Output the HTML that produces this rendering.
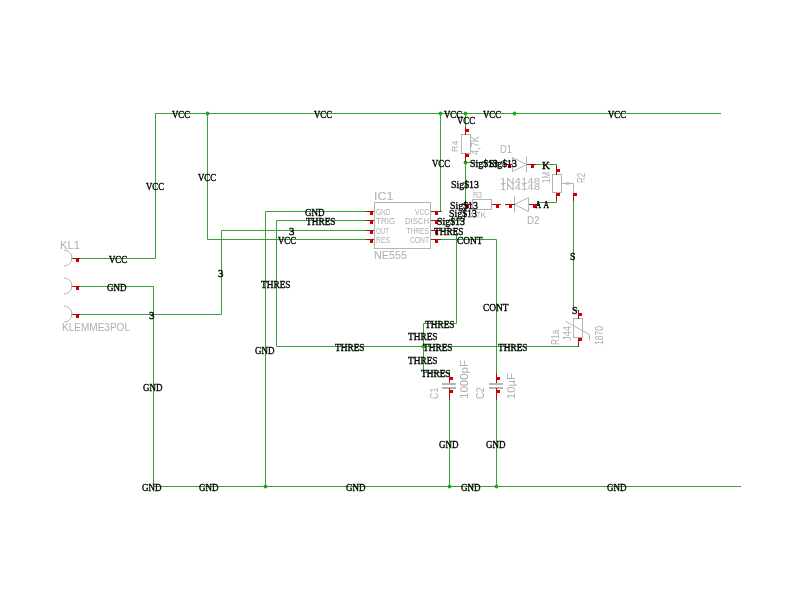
<!DOCTYPE html>
<html><head><meta charset="utf-8"><style>
html,body{margin:0;padding:0;background:#fff;width:800px;height:600px;overflow:hidden}
svg{display:block;will-change:transform}
.w{stroke:rgb(55,160,55);stroke-width:1;fill:none;stroke-linejoin:miter;stroke-linecap:square}
.p{stroke:rgb(160,20,20);stroke-width:1;fill:none;stroke-linecap:square}
.g{stroke:rgb(180,180,180);stroke-width:1;fill:none}
.l{font-family:"Liberation Serif",serif;font-size:10px;fill:#000;stroke:#000;stroke-width:0.35px}
.n{font-family:"Liberation Sans",sans-serif;fill:rgb(175,175,175)}
</style></head><body>
<svg width="800" height="600" viewBox="0 0 800 600">
<polyline points="155.5,113.5 720.5,113.5" class="w"/>
<polyline points="80.5,258.5 155.5,258.5 155.5,113.5" class="w"/>
<polyline points="207.5,113.5 207.5,239.5 366.5,239.5" class="w"/>
<polyline points="80.5,286.5 153.5,286.5 153.5,486.5 740.5,486.5" class="w"/>
<polyline points="80.5,314.5 221.5,314.5 221.5,230.5 366.5,230.5" class="w"/>
<polyline points="366.5,211.5 265.5,211.5 265.5,486.5" class="w"/>
<polyline points="366.5,220.5 276.5,220.5 276.5,346.5 578.5,346.5" class="w"/>
<polyline points="441.5,230.5 456.5,230.5 456.5,323.5 423.5,323.5 423.5,372.5 449.5,372.5" class="w"/>
<polyline points="441.5,239.5 496.5,239.5 496.5,373.5" class="w"/>
<polyline points="449.5,399.5 449.5,486.5" class="w"/>
<polyline points="496.5,399.5 496.5,486.5" class="w"/>
<polyline points="441.5,211.5 440.5,211.5 440.5,113.5" class="w"/>
<polyline points="465.5,113.5 465.5,127.5" class="w"/>
<polyline points="465.5,161.5 465.5,203.5" class="w"/>
<polyline points="465.5,162.5 501.5,162.5 503.5,164.5" class="w"/>
<polyline points="441.5,220.5 464.5,220.5 465.5,203.5" class="w"/>
<polyline points="535.5,164.5 556.5,164.5 556.5,169.5" class="w"/>
<polyline points="556.5,199.5 556.5,202.5 537.5,202.5 537.5,204.5" class="w"/>
<polyline points="573.5,200.5 573.5,309.5 578.5,310.5" class="w"/>
<circle cx="207.5" cy="113.5" r="1.9" fill="rgb(30,170,30)"/>
<circle cx="440.5" cy="113.5" r="1.9" fill="rgb(30,170,30)"/>
<circle cx="465.5" cy="113.5" r="1.9" fill="rgb(30,170,30)"/>
<circle cx="514.5" cy="113.5" r="1.9" fill="rgb(30,170,30)"/>
<circle cx="465.5" cy="162.5" r="1.9" fill="rgb(30,170,30)"/>
<circle cx="423.5" cy="346.5" r="1.9" fill="rgb(30,170,30)"/>
<circle cx="265.5" cy="486.5" r="1.9" fill="rgb(30,170,30)"/>
<circle cx="449.5" cy="486.5" r="1.9" fill="rgb(30,170,30)"/>
<circle cx="496.5" cy="486.5" r="1.9" fill="rgb(30,170,30)"/>
<line x1="71.5" y1="258.5" x2="79.5" y2="258.5" class="p"/>
<rect x="76" y="258" width="3" height="4" fill="rgb(200,0,0)"/>
<path d="M64,250 A8,8 0 0 1 64,266" class="g"/>
<line x1="71.5" y1="286.5" x2="79.5" y2="286.5" class="p"/>
<rect x="76" y="286" width="3" height="4" fill="rgb(200,0,0)"/>
<path d="M64,278 A8,8 0 0 1 64,294" class="g"/>
<line x1="71.5" y1="314.5" x2="79.5" y2="314.5" class="p"/>
<rect x="76" y="314" width="3" height="4" fill="rgb(200,0,0)"/>
<path d="M64,306 A8,8 0 0 1 64,322" class="g"/>
<rect x="374.5" y="202.5" width="56" height="46" class="g"/>
<line x1="366.5" y1="211.5" x2="373.5" y2="211.5" class="p"/>
<rect x="370" y="211" width="3" height="4" fill="rgb(200,0,0)"/>
<line x1="431.5" y1="211.5" x2="440.5" y2="211.5" class="p"/>
<rect x="435" y="211" width="3" height="4" fill="rgb(200,0,0)"/>
<line x1="366.5" y1="220.5" x2="373.5" y2="220.5" class="p"/>
<rect x="370" y="220" width="3" height="4" fill="rgb(200,0,0)"/>
<line x1="431.5" y1="220.5" x2="440.5" y2="220.5" class="p"/>
<rect x="435" y="220" width="3" height="4" fill="rgb(200,0,0)"/>
<line x1="366.5" y1="230.5" x2="373.5" y2="230.5" class="p"/>
<rect x="370" y="230" width="3" height="4" fill="rgb(200,0,0)"/>
<line x1="431.5" y1="230.5" x2="440.5" y2="230.5" class="p"/>
<rect x="435" y="230" width="3" height="4" fill="rgb(200,0,0)"/>
<line x1="366.5" y1="239.5" x2="373.5" y2="239.5" class="p"/>
<rect x="370" y="239" width="3" height="4" fill="rgb(200,0,0)"/>
<line x1="431.5" y1="239.5" x2="440.5" y2="239.5" class="p"/>
<rect x="435" y="239" width="3" height="4" fill="rgb(200,0,0)"/>
<rect x="461.5" y="134.5" width="9" height="19" class="g"/>
<line x1="465.5" y1="127.5" x2="465.5" y2="134.5" class="p"/>
<rect x="465" y="129" width="4" height="3" fill="rgb(200,0,0)"/>
<line x1="465.5" y1="153.5" x2="465.5" y2="161.5" class="p"/>
<rect x="465" y="154" width="4" height="3" fill="rgb(200,0,0)"/>
<polygon points="512.5,157.5 526.5,164.5 512.5,171.5" class="g"/>
<line x1="526.5" y1="156.5" x2="526.5" y2="172.5" class="g"/>
<line x1="503.5" y1="164.5" x2="511.5" y2="164.5" class="p"/>
<rect x="508" y="164" width="3" height="4" fill="rgb(200,0,0)"/>
<line x1="527.5" y1="164.5" x2="535.5" y2="164.5" class="p"/>
<rect x="531" y="164" width="3" height="4" fill="rgb(200,0,0)"/>
<polygon points="528.5,197.5 514.5,204.5 528.5,211.5" class="g"/>
<line x1="514.5" y1="196.5" x2="514.5" y2="212.5" class="g"/>
<line x1="505.5" y1="204.5" x2="514.5" y2="204.5" class="p"/>
<rect x="509" y="204" width="3" height="4" fill="rgb(200,0,0)"/>
<line x1="529.5" y1="204.5" x2="539.5" y2="204.5" class="p"/>
<rect x="533" y="204" width="3" height="4" fill="rgb(200,0,0)"/>
<rect x="472.5" y="199.5" width="19" height="10" class="g"/>
<line x1="462.5" y1="204.5" x2="471.5" y2="204.5" class="p"/>
<rect x="466" y="204" width="3" height="4" fill="rgb(200,0,0)"/>
<line x1="492.5" y1="204.5" x2="500.5" y2="204.5" class="p"/>
<rect x="496" y="204" width="3" height="4" fill="rgb(200,0,0)"/>
<rect x="552.5" y="174.5" width="9" height="18" class="g"/>
<ellipse cx="567.5" cy="183.5" rx="2.2" ry="1.2" fill="rgb(185,185,185)"/>
<line x1="556.5" y1="165.5" x2="556.5" y2="174.5" class="p"/>
<rect x="556" y="169" width="4" height="3" fill="rgb(200,0,0)"/>
<line x1="556.5" y1="193.5" x2="556.5" y2="200.5" class="p"/>
<rect x="556" y="193" width="4" height="3" fill="rgb(200,0,0)"/>
<polyline points="561.5,183.5 573.5,183.5 573.5,193.5" class="g"/>
<line x1="573.5" y1="193.5" x2="573.5" y2="200.5" class="p"/>
<rect x="573" y="193" width="4" height="3" fill="rgb(200,0,0)"/>
<rect x="573.5" y="318.5" width="9" height="19" class="g"/>
<line x1="578.5" y1="310.5" x2="578.5" y2="318.5" class="p"/>
<rect x="578" y="313" width="4" height="3" fill="rgb(200,0,0)"/>
<line x1="578.5" y1="338.5" x2="578.5" y2="346.5" class="p"/>
<rect x="578" y="338" width="4" height="3" fill="rgb(200,0,0)"/>
<polyline points="565.5,321.5 589.5,334.5 589.5,340.5" class="g"/>
<line x1="449.5" y1="373.5" x2="449.5" y2="382.5" class="p"/>
<rect x="449" y="377" width="4" height="3" fill="rgb(200,0,0)"/>
<rect x="442" y="383" width="14" height="2" fill="rgb(180,180,180)"/>
<rect x="442" y="387" width="14" height="2" fill="rgb(180,180,180)"/>
<line x1="449.5" y1="388.5" x2="449.5" y2="399.5" class="p"/>
<rect x="449" y="390" width="4" height="3" fill="rgb(200,0,0)"/>
<line x1="496.5" y1="373.5" x2="496.5" y2="382.5" class="p"/>
<rect x="496" y="377" width="4" height="3" fill="rgb(200,0,0)"/>
<rect x="489" y="383" width="14" height="2" fill="rgb(180,180,180)"/>
<rect x="489" y="387" width="14" height="2" fill="rgb(180,180,180)"/>
<line x1="496.5" y1="388.5" x2="496.5" y2="399.5" class="p"/>
<rect x="496" y="390" width="4" height="3" fill="rgb(200,0,0)"/>
<text x="172" y="117.5" class="l" textLength="18" lengthAdjust="spacingAndGlyphs">VCC</text>
<text x="314" y="117.5" class="l" textLength="18" lengthAdjust="spacingAndGlyphs">VCC</text>
<text x="444" y="117.5" class="l" textLength="18" lengthAdjust="spacingAndGlyphs">VCC</text>
<text x="457" y="123.5" class="l" textLength="18" lengthAdjust="spacingAndGlyphs">VCC</text>
<text x="483" y="117.5" class="l" textLength="18" lengthAdjust="spacingAndGlyphs">VCC</text>
<text x="608" y="117.5" class="l" textLength="18" lengthAdjust="spacingAndGlyphs">VCC</text>
<text x="146" y="189.5" class="l" textLength="18" lengthAdjust="spacingAndGlyphs">VCC</text>
<text x="198" y="180.5" class="l" textLength="18" lengthAdjust="spacingAndGlyphs">VCC</text>
<text x="432" y="166.5" class="l" textLength="18" lengthAdjust="spacingAndGlyphs">VCC</text>
<text x="109" y="262.5" class="l" textLength="18" lengthAdjust="spacingAndGlyphs">VCC</text>
<text x="107" y="290.5" class="l" textLength="19.5" lengthAdjust="spacingAndGlyphs">GND</text>
<text x="149" y="318.5" class="l" textLength="5.5" lengthAdjust="spacingAndGlyphs">3</text>
<text x="305" y="215.5" class="l" textLength="19.5" lengthAdjust="spacingAndGlyphs">GND</text>
<text x="306" y="224.5" class="l" textLength="29.5" lengthAdjust="spacingAndGlyphs">THRES</text>
<text x="289" y="234.5" class="l" textLength="5.5" lengthAdjust="spacingAndGlyphs">3</text>
<text x="278" y="243.5" class="l" textLength="18" lengthAdjust="spacingAndGlyphs">VCC</text>
<text x="218" y="276.5" class="l" textLength="5.5" lengthAdjust="spacingAndGlyphs">3</text>
<text x="261" y="287.5" class="l" textLength="29.5" lengthAdjust="spacingAndGlyphs">THRES</text>
<text x="255" y="353.5" class="l" textLength="19.5" lengthAdjust="spacingAndGlyphs">GND</text>
<text x="335" y="350.5" class="l" textLength="29.5" lengthAdjust="spacingAndGlyphs">THRES</text>
<text x="425" y="327.5" class="l" textLength="29.5" lengthAdjust="spacingAndGlyphs">THRES</text>
<text x="408" y="339.5" class="l" textLength="29.5" lengthAdjust="spacingAndGlyphs">THRES</text>
<text x="423" y="350.5" class="l" textLength="29.5" lengthAdjust="spacingAndGlyphs">THRES</text>
<text x="408" y="363.5" class="l" textLength="29.5" lengthAdjust="spacingAndGlyphs">THRES</text>
<text x="421" y="376.5" class="l" textLength="29.5" lengthAdjust="spacingAndGlyphs">THRES</text>
<text x="498" y="350.5" class="l" textLength="29.5" lengthAdjust="spacingAndGlyphs">THRES</text>
<text x="483" y="310.5" class="l" textLength="25.5" lengthAdjust="spacingAndGlyphs">CONT</text>
<text x="457" y="243.5" class="l" textLength="25.5" lengthAdjust="spacingAndGlyphs">CONT</text>
<text x="434" y="234.5" class="l" textLength="29.5" lengthAdjust="spacingAndGlyphs">THRES</text>
<text x="437" y="224.5" class="l" textLength="28" lengthAdjust="spacingAndGlyphs">Sig&#36;13</text>
<text x="449" y="216.5" class="l" textLength="28" lengthAdjust="spacingAndGlyphs">Sig&#36;13</text>
<text x="450" y="208.5" class="l" textLength="28" lengthAdjust="spacingAndGlyphs">Sig&#36;13</text>
<text x="451" y="187.5" class="l" textLength="28" lengthAdjust="spacingAndGlyphs">Sig&#36;13</text>
<text x="470" y="166.5" class="l" textLength="28" lengthAdjust="spacingAndGlyphs">Sig&#36;13</text>
<text x="489" y="166.5" class="l" textLength="28" lengthAdjust="spacingAndGlyphs">Sig&#36;13</text>
<text x="542" y="168.5" class="l" textLength="8" lengthAdjust="spacingAndGlyphs">K</text>
<text x="535.5" y="207.5" class="l" textLength="5.5" lengthAdjust="spacingAndGlyphs">A</text>
<text x="543.5" y="207.5" class="l" textLength="5.5" lengthAdjust="spacingAndGlyphs">A</text>
<text x="570" y="259.5" class="l" textLength="5.5" lengthAdjust="spacingAndGlyphs">S</text>
<text x="572" y="313.5" class="l" textLength="5.5" lengthAdjust="spacingAndGlyphs">S</text>
<text x="143" y="390.5" class="l" textLength="19.5" lengthAdjust="spacingAndGlyphs">GND</text>
<text x="142" y="490.5" class="l" textLength="19.5" lengthAdjust="spacingAndGlyphs">GND</text>
<text x="199" y="490.5" class="l" textLength="19.5" lengthAdjust="spacingAndGlyphs">GND</text>
<text x="346" y="490.5" class="l" textLength="19.5" lengthAdjust="spacingAndGlyphs">GND</text>
<text x="439" y="447.5" class="l" textLength="19.5" lengthAdjust="spacingAndGlyphs">GND</text>
<text x="486" y="447.5" class="l" textLength="19.5" lengthAdjust="spacingAndGlyphs">GND</text>
<text x="461" y="490.5" class="l" textLength="19.5" lengthAdjust="spacingAndGlyphs">GND</text>
<text x="607" y="490.5" class="l" textLength="19.5" lengthAdjust="spacingAndGlyphs">GND</text>
<text x="60" y="249" class="n" style="font-size:11.63px" textLength="20" lengthAdjust="spacingAndGlyphs">KL1</text>
<text x="62" y="331" class="n" style="font-size:11.63px" textLength="68" lengthAdjust="spacingAndGlyphs">KLEMME3POL</text>
<text x="374" y="200" class="n" style="font-size:11.19px" textLength="19.5" lengthAdjust="spacingAndGlyphs">IC1</text>
<text x="374" y="258.5" class="n" style="font-size:11.63px" textLength="33" lengthAdjust="spacingAndGlyphs">NE555</text>
<text x="376" y="214.5" class="n" style="font-size:8.72px" textLength="14.300000000000011" lengthAdjust="spacingAndGlyphs">GND</text>
<text x="376" y="224" class="n" style="font-size:8.43px" textLength="19.19999999999999" lengthAdjust="spacingAndGlyphs">TRIG</text>
<text x="376" y="233.5" class="n" style="font-size:9.45px" textLength="13" lengthAdjust="spacingAndGlyphs">OUT</text>
<text x="376" y="243" class="n" style="font-size:9.45px" textLength="14" lengthAdjust="spacingAndGlyphs">RES</text>
<text x="415" y="214.5" class="n" style="font-size:8.72px" textLength="14" lengthAdjust="spacingAndGlyphs">VCC</text>
<text x="405" y="224" class="n" style="font-size:8.43px" textLength="24" lengthAdjust="spacingAndGlyphs">DISCH</text>
<text x="406.4" y="233.5" class="n" style="font-size:9.45px" textLength="22.600000000000023" lengthAdjust="spacingAndGlyphs">THRES</text>
<text x="410" y="243" class="n" style="font-size:9.45px" textLength="19" lengthAdjust="spacingAndGlyphs">CONT</text>
<text x="500" y="153" class="n" style="font-size:11.63px" textLength="12" lengthAdjust="spacingAndGlyphs">D1</text>
<text x="500" y="184.4" class="n" style="font-size:9.30px" textLength="40" lengthAdjust="spacingAndGlyphs">1N4148</text>
<text x="500" y="190.3" class="n" style="font-size:9.74px" textLength="40" lengthAdjust="spacingAndGlyphs">1N4148</text>
<text x="527" y="223.5" class="n" style="font-size:10.17px" textLength="12.5" lengthAdjust="spacingAndGlyphs">D2</text>
<text x="473" y="197.5" class="n" style="font-size:8.72px" textLength="9" lengthAdjust="spacingAndGlyphs">R3</text>
<text x="469" y="218" class="n" style="font-size:9.45px" textLength="17" lengthAdjust="spacingAndGlyphs">4,7K</text>
<text x="0" y="0" class="n" style="font-size:9.45px" textLength="11.5" lengthAdjust="spacingAndGlyphs" transform="translate(458,152) rotate(-90)">R4</text>
<text x="0" y="0" class="n" style="font-size:10.17px" textLength="19" lengthAdjust="spacingAndGlyphs" transform="translate(479,155) rotate(-90)">4,7K</text>
<text x="0" y="0" class="n" style="font-size:10.17px" textLength="11" lengthAdjust="spacingAndGlyphs" transform="translate(550,183) rotate(-90)">1M</text>
<text x="0" y="0" class="n" style="font-size:10.17px" textLength="10" lengthAdjust="spacingAndGlyphs" transform="translate(585,183) rotate(-90)">R2</text>
<text x="0" y="0" class="n" style="font-size:10.17px" textLength="15" lengthAdjust="spacingAndGlyphs" transform="translate(559,345) rotate(-90)">R1a</text>
<text x="0" y="0" class="n" style="font-size:11.63px" textLength="15" lengthAdjust="spacingAndGlyphs" transform="translate(571,341) rotate(-90)">J44</text>
<text x="0" y="0" class="n" style="font-size:10.17px" textLength="19" lengthAdjust="spacingAndGlyphs" transform="translate(603,345) rotate(-90)">1870</text>
<text x="0" y="0" class="n" style="font-size:10.90px" textLength="11.5" lengthAdjust="spacingAndGlyphs" transform="translate(437.5,399) rotate(-90)">C1</text>
<text x="0" y="0" class="n" style="font-size:10.90px" textLength="39" lengthAdjust="spacingAndGlyphs" transform="translate(467.5,399) rotate(-90)">1000pF</text>
<text x="0" y="0" class="n" style="font-size:10.17px" textLength="12" lengthAdjust="spacingAndGlyphs" transform="translate(484,399) rotate(-90)">C2</text>
<text x="0" y="0" class="n" style="font-size:10.90px" textLength="26" lengthAdjust="spacingAndGlyphs" transform="translate(515,399) rotate(-90)">10µF</text>
</svg>
</body></html>
